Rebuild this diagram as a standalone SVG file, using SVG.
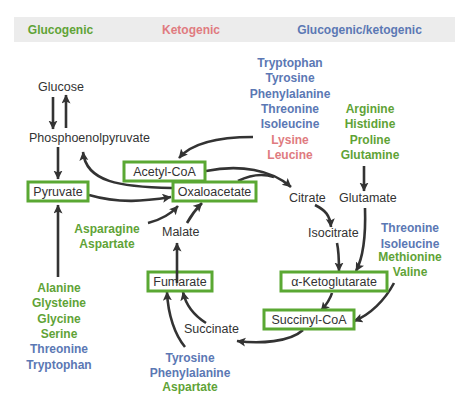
<svg xmlns="http://www.w3.org/2000/svg" width="474" height="408" viewBox="0 0 474 408">
<defs>
<marker id="ah" markerUnits="userSpaceOnUse" markerWidth="12" markerHeight="12" refX="8.5" refY="4.5" orient="auto">
<path d="M0,0 L9,4.5 L0,9 L2,4.5 z" fill="#333"/>
</marker>
<style>
.lbl{font-family:"Liberation Sans",Arial,sans-serif;font-size:12.5px;fill:#333;}
.aa{font-family:"Liberation Sans",Arial,sans-serif;font-size:12px;font-weight:bold;text-anchor:middle;}
.g{fill:#5fa337;}
.k{fill:#e07b80;}
.b{fill:#5b78b4;}
.box{fill:#fff;stroke:#5aa833;stroke-width:3;}
.c{fill:none;stroke:#333;stroke-width:2.6;marker-end:url(#ah);}
.cn{fill:none;stroke:#333;stroke-width:2.6;}
.mid{text-anchor:middle;}
</style>
</defs>
<rect x="14" y="17" width="441" height="25" fill="#ececec"/>
<text class="aa g" x="60.5" y="34">Glucogenic</text>
<text class="aa k" x="191" y="34">Ketogenic</text>
<text class="aa b" x="359.5" y="34">Glucogenic/ketogenic</text>

<g id="connectors">
<path class="c" d="M53,97 L53,129"/>
<path class="c" d="M66,128 L66,95"/>
<path class="c" d="M58,147 L58,179"/>
<path class="c" d="M172,188 C120,187 86,182 83,152"/>
<path class="c" d="M89,195 C120,204 145,201 171,197"/>
<path class="c" d="M58,277 L58,205"/>
<path class="c" d="M253,137 C215,137 190,145 179,158"/>
<path class="c" d="M206,171 C240,164 272,170 291,187"/>
<path class="cn" d="M238,181 C250,175 262,173 274,177"/>
<path class="c" d="M364,166 L364,191"/>
<path class="c" d="M315,205 C325,210 330,215 331,227"/>
<path class="c" d="M337,243 C339,252 339,260 339,271"/>
<path class="c" d="M365,208 C366,240 363,258 356,271"/>
<path class="c" d="M332,293 C330,300 326,305 321,311"/>
<path class="c" d="M394,283 C385,300 370,315 354,321"/>
<path class="c" d="M303,330 C290,342 260,344 237,341"/>
<path class="c" d="M206,323 C195,316 186,306 183,292"/>
<path class="c" d="M185,347 C175,335 168,315 167,292"/>
<path class="c" d="M148,223 C160,220 170,215 178,206"/>
<path class="c" d="M187,223 C192,214 196,209 202,203"/>
</g>

<g id="glucose"><text class="lbl" x="38" y="90.5">Glucose</text></g>
<g id="pep"><text class="lbl" x="29" y="141.5">Phosphoenolpyruvate</text></g>
<g id="pyruvate"><rect class="box" x="28" y="182" width="60" height="19"/><text class="lbl mid" x="58" y="196">Pyruvate</text></g>
<g id="acetylcoa"><rect class="box" x="124" y="162" width="81" height="19"/><text class="lbl mid" x="164.5" y="176">Acetyl-CoA</text></g>
<g id="oxaloacetate"><rect class="box" x="173" y="182" width="83" height="19"/><text class="lbl mid" x="214.5" y="196">Oxaloacetate</text></g>
<g id="citrate"><text class="lbl" x="289" y="201.5">Citrate</text></g>
<g id="glutamate"><text class="lbl" x="339" y="201.5">Glutamate</text></g>
<g id="isocitrate"><text class="lbl" x="308" y="236.5">Isocitrate</text></g>
<g id="akg"><rect class="box" x="281" y="272" width="106" height="19"/><text class="lbl mid" x="334" y="286">α-Ketoglutarate</text></g>
<g id="succinylcoa"><rect class="box" x="264" y="310" width="90" height="19"/><text class="lbl mid" x="309" y="324">Succinyl-CoA</text></g>
<g id="succinate"><text class="lbl" x="184" y="332.5">Succinate</text></g>
<g id="fumarate"><rect class="box" x="148" y="272" width="64" height="19"/><text class="lbl mid" x="180" y="286">Fumarate</text></g>
<g id="malate"><text class="lbl" x="162" y="235.5">Malate</text></g>
<path class="c" d="M177,283 L177,243"/>

<g id="aa-top">
<text class="aa b" x="290" y="66.5">Tryptophan</text>
<text class="aa b" x="290" y="82">Tyrosine</text>
<text class="aa b" x="290" y="97.5">Phenylalanine</text>
<text class="aa b" x="290" y="112.5">Threonine</text>
<text class="aa b" x="290" y="128">Isoleucine</text>
<text class="aa k" x="290" y="143.5">Lysine</text>
<text class="aa k" x="290" y="158.5">Leucine</text>
</g>
<g id="aa-glutamate">
<text class="aa g" x="370" y="112.5">Arginine</text>
<text class="aa g" x="370" y="128">Histidine</text>
<text class="aa g" x="370" y="143.5">Proline</text>
<text class="aa g" x="370" y="158.5">Glutamine</text>
</g>
<g id="aa-succinyl">
<text class="aa b" x="410" y="231.5">Threonine</text>
<text class="aa b" x="410" y="247.5">Isoleucine</text>
<text class="aa g" x="410" y="260.5">Methionine</text>
<text class="aa g" x="410" y="275.5">Valine</text>
</g>
<g id="aa-oxaloacetate">
<text class="aa g" x="107" y="232.5">Asparagine</text>
<text class="aa g" x="107" y="247.5">Aspartate</text>
</g>
<g id="aa-pyruvate">
<text class="aa g" x="59" y="291.5">Alanine</text>
<text class="aa g" x="59" y="307">Glysteine</text>
<text class="aa g" x="59" y="322.5">Glycine</text>
<text class="aa g" x="59" y="337.5">Serine</text>
<text class="aa b" x="59" y="353">Threonine</text>
<text class="aa b" x="59" y="368.5">Tryptophan</text>
</g>
<g id="aa-fumarate">
<text class="aa b" x="190" y="361.5">Tyrosine</text>
<text class="aa b" x="190" y="376.5">Phenylalanine</text>
<text class="aa g" x="190" y="391">Aspartate</text>
</g>
</svg>
